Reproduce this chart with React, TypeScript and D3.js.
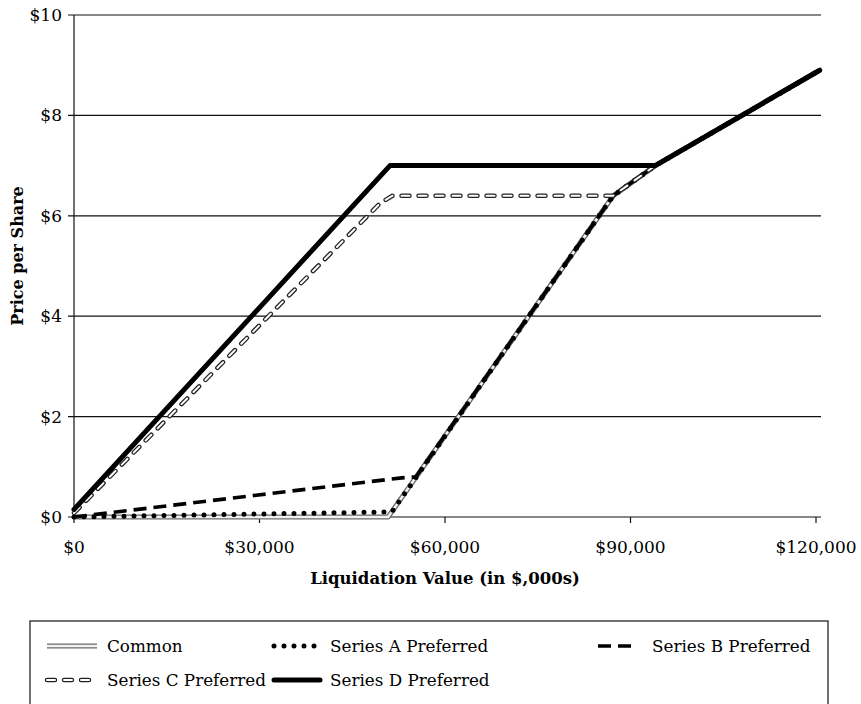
import { useEffect, useRef } from 'react'
import * as d3 from 'd3'

// liquidation value ($) -> price per share ($)
const commonPts: [number, number][] = [[0, 0], [50800, 0], [87200, 6.4], [94000, 7.0], [120600, 8.9]]
const seriesAPts: [number, number][] = [[0, 0], [25000, 0.05], [50500, 0.1], [51400, 0.1], [87200, 6.4], [94000, 7.0], [120600, 8.9]]
const seriesBPts: [number, number][] = [[0, 0], [53000, 0.78], [55300, 0.8], [87200, 6.4], [94000, 7.0], [120600, 8.9]]
const seriesCPts: [number, number][] = [[0, 0.08], [49500, 6.25], [51500, 6.4], [87200, 6.4], [94000, 7.0], [120600, 8.9]]
const seriesDPts: [number, number][] = [[0, 0.15], [51100, 7.0], [94000, 7.0], [120600, 8.9]]

const xTicks = [0, 30000, 60000, 90000, 120000]
const yTicks = [0, 2, 4, 6, 8, 10]
const legendNames = ['Common', 'Series A Preferred', 'Series B Preferred', 'Series C Preferred', 'Series D Preferred']

const W = 861
const H = 704
const FONT = '"DejaVu Serif", serif'

export default function App() {
    const ref = useRef<SVGSVGElement>(null)

    useEffect(() => {
        draw()
    })

    const draw = () => {
        const svg = d3.select(ref.current)
        svg.selectAll('*').remove()

        const x = d3.scaleLinear().domain([0, 120000]).range([74, 816])
        const y = d3.scaleLinear().domain([0, 10]).range([517, 15])
        const plotRight = 821

        // gridlines
        svg.append('g').selectAll('line')
            .data(yTicks)
            .enter()
            .append('line')
            .attr('x1', x(0) - 6).attr('x2', plotRight)
            .attr('y1', d => y(d)).attr('y2', d => y(d))
            .attr('stroke', '#111').attr('stroke-width', 1.2)

        // y axis line
        svg.append('line')
            .attr('x1', x(0)).attr('x2', x(0))
            .attr('y1', y(10)).attr('y2', y(0))
            .attr('stroke', '#111').attr('stroke-width', 1.2)

        // y tick labels
        svg.append('g').selectAll('text')
            .data(yTicks)
            .enter()
            .append('text')
            .attr('x', 62).attr('y', d => y(d) + 6)
            .attr('text-anchor', 'end')
            .style('font-family', FONT).style('font-size', '17px')
            .text(d => '$' + d)

        // x ticks
        svg.append('g').selectAll('line')
            .data(xTicks)
            .enter()
            .append('line')
            .attr('x1', d => x(d)).attr('x2', d => x(d))
            .attr('y1', y(0)).attr('y2', y(0) + 6)
            .attr('stroke', '#111').attr('stroke-width', 1.2)

        svg.append('g').selectAll('text')
            .data(xTicks)
            .enter()
            .append('text')
            .attr('x', d => x(d)).attr('y', 553)
            .attr('text-anchor', 'middle')
            .style('font-family', FONT).style('font-size', '17px')
            .text(d => '$' + d3.format(',')(d))

        // axis titles
        svg.append('text')
            .attr('x', 445).attr('y', 584)
            .attr('text-anchor', 'middle')
            .style('font-family', FONT).style('font-size', '16.5px').style('font-weight', 'bold')
            .text('Liquidation Value (in $,000s)')

        svg.append('text')
            .attr('transform', 'translate(23,256) rotate(-90)')
            .attr('text-anchor', 'middle')
            .style('font-family', FONT).style('font-size', '16px').style('font-weight', 'bold')
            .text('Price per Share')

        const line = d3.line<[number, number]>()
            .x(d => x(d[0]))
            .y(d => y(d[1]))

        const drawCommon = (g: any, d: string) => {
            g.append('path').attr('d', d).attr('fill', 'none')
                .attr('stroke', '#6a6a6a').attr('stroke-width', 5).attr('stroke-linejoin', 'round')
            g.append('path').attr('d', d).attr('fill', 'none')
                .attr('stroke', '#f2f2f2').attr('stroke-width', 2.4).attr('stroke-linejoin', 'round')
        }
        const drawA = (g: any, d: string) => {
            g.append('path').attr('d', d).attr('fill', 'none')
                .attr('stroke', '#000').attr('stroke-width', 5)
                .attr('stroke-dasharray', '0 10').attr('stroke-linecap', 'round')
        }
        const drawB = (g: any, d: string) => {
            g.append('path').attr('d', d).attr('fill', 'none')
                .attr('stroke', '#000').attr('stroke-width', 3.6)
                .attr('stroke-dasharray', '13 7').attr('stroke-linejoin', 'round')
        }
        const drawC = (g: any, d: string) => {
            g.append('path').attr('d', d).attr('fill', 'none')
                .attr('stroke', '#222').attr('stroke-width', 4.5)
                .attr('stroke-dasharray', '8 9').attr('stroke-linecap', 'round')
            g.append('path').attr('d', d).attr('fill', 'none')
                .attr('stroke', '#fff').attr('stroke-width', 2)
                .attr('stroke-dasharray', '8 9').attr('stroke-linecap', 'round')
        }
        const drawD = (g: any, d: string) => {
            g.append('path').attr('d', d).attr('fill', 'none')
                .attr('stroke', '#000').attr('stroke-width', 5)
                .attr('stroke-linejoin', 'round').attr('stroke-linecap', 'round')
        }

        const series = [
            { pts: commonPts, fn: drawCommon },
            { pts: seriesAPts, fn: drawA },
            { pts: seriesBPts, fn: drawB },
            { pts: seriesCPts, fn: drawC },
            { pts: seriesDPts, fn: drawD },
        ]
        const lines = svg.append('g')
        series.forEach(s => s.fn(lines, line(s.pts) as string))

        // legend
        const lg = svg.append('g')
        lg.append('rect')
            .attr('x', 30).attr('y', 621).attr('width', 798).attr('height', 90)
            .attr('fill', 'none').attr('stroke', '#111').attr('stroke-width', 1.2)

        const slots = [
            { sx: 47, sw: 50, tx: 107, ty: 652 },
            { sx: 274, sw: 46, tx: 330, ty: 652 },
            { sx: 598, sw: 36, tx: 652, ty: 652 },
            { sx: 47, sw: 50, tx: 107, ty: 686 },
            { sx: 274, sw: 46, tx: 330, ty: 686 },
        ]
        legendNames.forEach((name, i) => {
            const s = slots[i]
            const ly = s.ty - 6
            const d = `M${s.sx},${ly}L${s.sx + s.sw},${ly}`
            series[i].fn(lg, d)
            lg.append('text')
                .attr('x', s.tx).attr('y', s.ty)
                .style('font-family', FONT).style('font-size', '16.8px')
                .text(name)
        })
    }

    return (
        <svg ref={ref} width={W} height={H}
            style={{ position: 'absolute', left: 0, top: 0, background: '#fff' }} />
    )
}
